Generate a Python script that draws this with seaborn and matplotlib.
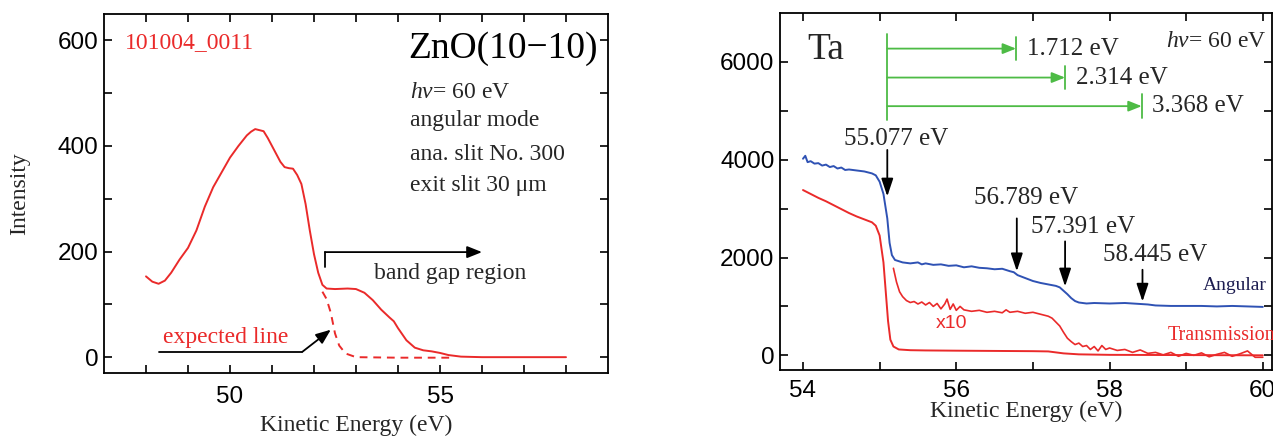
import numpy as np
import pandas as pd
import matplotlib
matplotlib.use("Agg")
import matplotlib.pyplot as plt
import seaborn as sns

# ---------------- data ----------------
# Left panel: ZnO(10-10)
zno_x = [48.0, 48.15, 48.3, 48.45, 48.6, 48.8, 49.0, 49.2, 49.4, 49.6, 49.8, 50.0,
         50.2, 50.4, 50.5, 50.6, 50.7, 50.8, 50.9, 51.0, 51.1, 51.2, 51.3, 51.4,
         51.5, 51.6, 51.7, 51.8, 51.9, 52.0, 52.1, 52.2, 52.3, 52.5, 52.8, 53.0,
         53.2, 53.4, 53.6, 53.8, 53.9, 54.0, 54.2, 54.4, 54.6, 54.8, 55.0, 55.2,
         55.5, 56.0, 57.0, 58.0]
zno_y = [153, 143, 139, 145, 160, 185, 207, 240, 285, 322, 350, 378,
         400, 420, 427, 432, 430, 428, 415, 400, 385, 370, 360, 358,
         357, 345, 328, 290, 240, 195, 160, 137, 130, 129, 130, 129,
         122, 108, 90, 75, 68, 55, 32, 18, 13, 11, 8, 4,
         1, 0, 0, 0]
exp_x = [52.2, 52.3, 52.4, 52.5, 52.6, 52.75, 53.0, 54.0, 55.3]
exp_y = [124, 110, 84, 45, 22, 7, 0, -1, -1]

# Right panel: Ta
ang_x = [54.0, 54.03, 54.06, 54.1, 54.15, 54.2, 54.25, 54.3, 54.35, 54.4, 54.45, 54.5,
         54.55, 54.6, 54.7, 54.8, 54.9, 54.95, 55.0, 55.05, 55.1, 55.13, 55.16, 55.2,
         55.3, 55.4, 55.5, 55.55, 55.6, 55.7, 55.8, 55.9, 56.0, 56.1, 56.2, 56.3,
         56.4, 56.5, 56.6, 56.7, 56.75, 56.8, 56.9, 57.0, 57.1, 57.2, 57.3, 57.35,
         57.4, 57.45, 57.5, 57.55, 57.6, 57.7, 57.8, 58.0, 58.2, 58.4, 58.5, 58.6,
         58.8, 59.0, 59.2, 59.4, 59.6, 59.8, 60.0]
ang_y = [4020, 4080, 3950, 3970, 3920, 3930, 3880, 3900, 3850, 3870, 3820, 3840,
         3790, 3800, 3780, 3760, 3720, 3680, 3550, 3300, 2800, 2300, 2050, 1950,
         1900, 1880, 1900, 1860, 1880, 1850, 1860, 1830, 1840, 1800, 1820, 1790,
         1780, 1760, 1770, 1720, 1700, 1640, 1580, 1520, 1480, 1450, 1420, 1390,
         1320, 1250, 1170, 1110, 1080, 1060, 1070, 1060, 1070, 1050, 1040, 1020,
         1010, 1010, 1010, 1000, 1010, 1000, 990]

tr_x = [54.0, 54.1, 54.2, 54.3, 54.4, 54.5, 54.6, 54.7, 54.8, 54.9, 54.95, 55.0,
        55.05, 55.08, 55.11, 55.14, 55.18, 55.25, 55.4, 55.6, 56.0, 56.5, 57.0, 57.2,
        57.3, 57.4, 57.6, 58.0, 59.0, 60.0]
tr_y = [3380, 3300, 3220, 3150, 3070, 2990, 2910, 2840, 2780, 2720, 2650, 2450,
        1900, 1300, 700, 320, 180, 120, 105, 100, 95, 90, 85, 80,
        60, 40, 20, 10, 5, 0]

x10_x = [55.18, 55.22, 55.26, 55.3, 55.35, 55.4, 55.45, 55.5, 55.55, 55.6, 55.65, 55.7,
         55.75, 55.8, 55.85, 55.88, 55.92, 55.96, 56.0, 56.05, 56.1, 56.2, 56.3, 56.4,
         56.5, 56.6, 56.65, 56.7, 56.8, 56.9, 57.0, 57.1, 57.2, 57.25, 57.3, 57.35,
         57.4, 57.45, 57.5, 57.55, 57.6, 57.65, 57.7, 57.75, 57.8, 57.85, 57.9, 57.95,
         58.0, 58.1, 58.2, 58.3, 58.4, 58.5, 58.6, 58.7, 58.8, 58.9, 59.0, 59.1,
         59.2, 59.3, 59.4, 59.5, 59.6, 59.7, 59.8, 59.9, 60.0]
x10_y = [1780, 1500, 1300, 1200, 1120, 1080, 1100, 1050, 1090, 1030, 1080, 1000,
         1060, 950, 1050, 1150, 940, 1050, 920, 1000, 930, 900, 920, 880,
         900, 870, 930, 880, 900, 860, 880, 840, 800, 760, 680, 600,
         470, 350, 280, 220, 250, 180, 200, 120, 180, 90, 200, 120,
         150, 100, 120, 60, 110, 40, 60, 10, 60, -20, 40, 0,
         50, -30, 20, 60, -20, 30, 90, -40, -40]

# annotation values
edge_labels = ["55.077 eV", "56.789 eV", "57.391 eV", "58.445 eV"]
edge_x = [55.1, 56.79, 57.42, 58.43]
gap_labels = ["1.712 eV", "2.314 eV", "3.368 eV"]
gap_end = [56.78, 57.42, 58.42]

# ---------------- style ----------------
sns.set_style("ticks")
SERIF = ["Liberation Serif", "DejaVu Serif"]
SANS = ["Liberation Sans", "DejaVu Sans"]
plt.rcParams["font.family"] = SANS
plt.rcParams["mathtext.fontset"] = "custom"
plt.rcParams["mathtext.rm"] = "Liberation Serif"
plt.rcParams["mathtext.it"] = "Liberation Serif:italic"
plt.rcParams["axes.linewidth"] = 1.3

RED = "#ea2a2a"
BLUE = "#2f52b4"
GREEN = "#4dbb45"

fig = plt.figure(figsize=(12.73, 4.36), dpi=100)
axL = fig.add_axes([104 / 1273, 1 - 373 / 436, 504 / 1273, 359 / 436])
axR = fig.add_axes([780 / 1273, 1 - 370 / 436, 492 / 1273, 357 / 436])

for ax in (axL, axR):
    ax.tick_params(direction="in", length=6, width=1.2, top=True, right=True,
                   labelsize=17.5, colors="black")
    for s in ax.spines.values():
        s.set_color("black")

# ---------------- left panel ----------------
sns.lineplot(x=zno_x, y=zno_y, ax=axL, color=RED, lw=1.4, sort=False)
sns.lineplot(x=exp_x, y=exp_y, ax=axL, color=RED, lw=1.4, sort=False, linestyle=(0, (4, 3)))
axL.set_xlim(47, 59)
axL.set_ylim(-30, 650)
axL.set_xticks(np.arange(48, 59, 1))
axL.set_xticklabels(["" if v not in (50, 55) else str(v) for v in range(48, 59)])
axL.set_yticks(np.arange(0, 700, 100))
axL.set_yticklabels([str(v) if v % 200 == 0 else "" for v in range(0, 700, 100)])
axL.tick_params(axis="x", pad=9)
axL.tick_params(axis="y", pad=4)
axL.set_xlabel("Kinetic Energy (eV)", family=SERIF, fontsize=17, labelpad=5)
axL.set_ylabel("Intensity", family=SERIF, fontsize=17, labelpad=20)

axL.text(47.5, 596, "101004_0011", color=RED, family=SERIF, fontsize=17, va="center", ha="left")
axL.text(58.75, 585, "ZnO(10\u221210)", color="black", family=SERIF, fontsize=27, va="center", ha="right")
axL.text(54.29, 502, r"$h\nu$= 60 eV", family=SERIF, fontsize=17, va="center", ha="left")
axL.text(54.29, 449, "angular mode", family=SERIF, fontsize=17, va="center", ha="left")
axL.text(54.29, 383, "ana. slit No. 300", family=SERIF, fontsize=17, va="center", ha="left")
axL.text(54.29, 326, "exit slit 30 \u03bcm", family=SERIF, fontsize=17, va="center", ha="left")
axL.text(53.42, 159, "band gap region", family=SERIF, fontsize=17, va="center", ha="left")
axL.plot([52.26, 52.26], [171, 199], color="black", lw=1.3)
axL.annotate("", xy=(56.0, 199), xytext=(52.26, 199),
             arrowprops=dict(arrowstyle="-|>,head_length=0.5,head_width=0.2", color="black",
                             lw=1.3, mutation_scale=18, shrinkA=0, shrinkB=0))
axL.text(48.4, 38, "expected line", color=RED, family=SERIF, fontsize=17, va="center", ha="left")
axL.plot([48.3, 51.72], [10, 10], color="black", lw=1.3)
axL.annotate("", xy=(52.4, 52), xytext=(51.72, 10),
             arrowprops=dict(arrowstyle="-|>,head_length=0.5,head_width=0.2", color="black",
                             lw=1.3, mutation_scale=18, shrinkA=0, shrinkB=0))

# ---------------- right panel ----------------
sns.lineplot(x=ang_x, y=ang_y, ax=axR, color=BLUE, lw=1.4, sort=False)
sns.lineplot(x=tr_x, y=tr_y, ax=axR, color=RED, lw=1.4, sort=False)
sns.lineplot(x=x10_x, y=x10_y, ax=axR, color=RED, lw=1.2, sort=False)
axR.set_xlim(53.7, 60.12)
axR.set_ylim(-300, 7000)
axR.set_xticks(np.arange(54, 61, 1))
axR.set_xticklabels([str(v) if v % 2 == 0 else "" for v in range(54, 61)])
axR.set_yticks(np.arange(0, 7000, 1000))
axR.set_yticklabels([str(v) if v % 2000 == 0 else "" for v in range(0, 7000, 1000)])
axR.tick_params(axis="x", pad=7)
axR.tick_params(axis="y", pad=4)
axR.set_xlabel("Kinetic Energy (eV)", family=SERIF, fontsize=17, labelpad=-1)
axR.set_ylabel("")

axR.text(54.05, 6250, "Ta", family=SERIF, fontsize=27, va="center", ha="left")
axR.text(60.04, 6420, r"$h\nu$= 60 eV", family=SERIF, fontsize=17, va="center", ha="right")

# green gap arrows
axR.plot([55.1, 55.1], [4810, 6580], color=GREEN, lw=1.3)
gap_y = [6272, 5680, 5095]
for lab, xe, yy in zip(gap_labels, gap_end, gap_y):
    axR.annotate("", xy=(xe, yy), xytext=(55.1, yy),
                 arrowprops=dict(arrowstyle="-|>,head_length=0.5,head_width=0.2", color=GREEN,
                                 lw=1.3, mutation_scale=16, shrinkA=0, shrinkB=0))
    axR.plot([xe, xe], [yy - 240, yy + 240], color=GREEN, lw=1.3)
    axR.text(xe + 0.14, yy, lab, family=SERIF, fontsize=18, va="center", ha="left")

# black edge arrows
lab_pos = [(54.53, 4430), (56.23, 3211), (56.98, 2633), (57.92, 2054)]
arr_y = [(4200, 3250), (2800, 1720), (2330, 1410), (1750, 1100)]
for lab, xe, (lx, ly), (y0, y1) in zip(edge_labels, edge_x, lab_pos, arr_y):
    axR.text(lx, ly, lab, family=SERIF, fontsize=18, va="center", ha="left")
    axR.annotate("", xy=(xe, y1), xytext=(xe, y0),
                 arrowprops=dict(arrowstyle="-|>,head_length=0.6,head_width=0.2", color="black",
                                 lw=1.3, mutation_scale=18, shrinkA=0, shrinkB=0))

axR.text(60.05, 1420, "Angular", color="#1c1c50", family=SERIF, fontsize=14, va="center", ha="right")
axR.text(60.16, 400, "Transmission", color=RED, family=SERIF, fontsize=14.5, va="center", ha="right")
axR.text(55.73, 660, "x10", color=RED, family=SANS, fontsize=14, va="center", ha="left")

fig.savefig("out.png", dpi=100)
